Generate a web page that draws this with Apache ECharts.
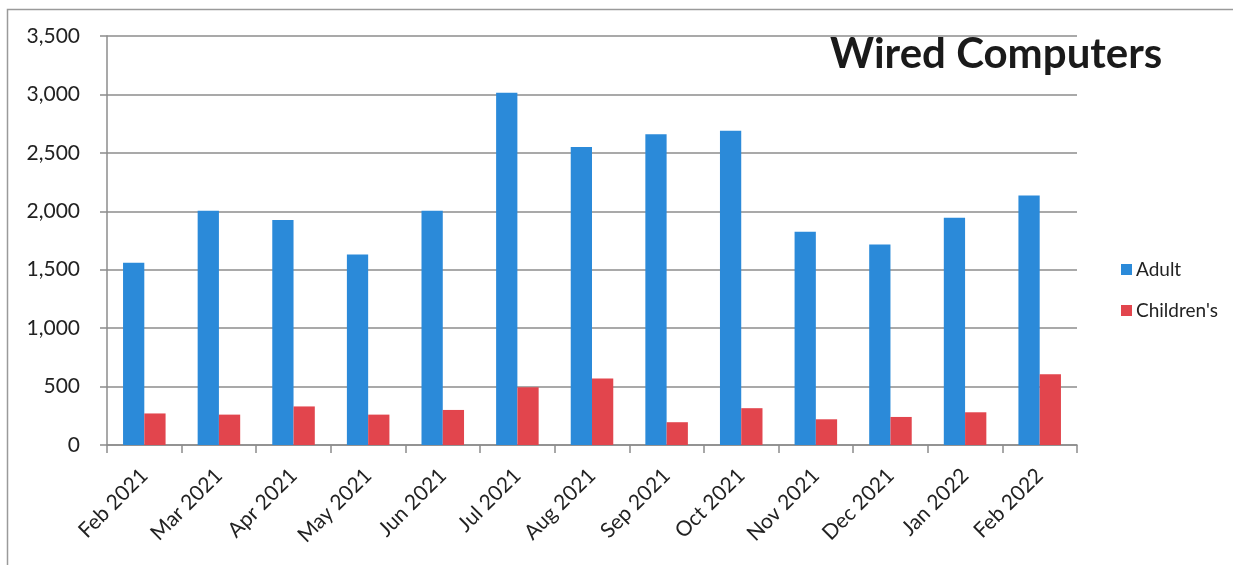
<!DOCTYPE html>
<html><head><meta charset="utf-8">
<script src="https://cdn.jsdelivr.net/npm/echarts@6/dist/echarts.min.js"></script>
<style>html,body{margin:0;padding:0;background:#fff}#c{width:1233px;height:565px}</style>
</head><body><div id="c"></div>
<script>
const categories = ['Feb 2021','Mar 2021','Apr 2021','May 2021','Jun 2021','Jul 2021','Aug 2021','Sep 2021','Oct 2021','Nov 2021','Dec 2021','Jan 2022','Feb 2022'];
const adult = [1560, 2005, 1925, 1630, 2005, 3015, 2550, 2660, 2690, 1825, 1715, 1945, 2135];
const children = [270, 260, 330, 260, 300, 495, 570, 195, 315, 220, 240, 280, 605];
const seriesNames = ['Adult', "Children's"];

const chart = echarts.init(document.getElementById('c'), null, {renderer:'canvas'});
const font = 'Lato, "Open Sans", sans-serif';
chart.setOption({
  animation: false,
  backgroundColor: '#fff',
  title: {
    text: 'Wired Computers', left: 830, top: 33, padding: 0,
    textStyle: {fontFamily: font, fontWeight: 'bold', fontSize: 42, color: '#1a1a1a'}
  },
  graphic: [{
    type: 'rect', shape: {x: 7.5, y: 9.5, width: 1240, height: 600},
    style: {fill: 'none', stroke: '#9a9a9a', lineWidth: 1.5}, silent: true, z: -1
  }],
  legend: {
    orient: 'vertical', left: 1116, top: 255, itemGap: 22,
    itemWidth: 11, itemHeight: 11, icon: 'rect',
    textStyle: {fontFamily: font, fontSize: 19, color: '#222', padding: [0,0,0,-1]},
    data: seriesNames
  },
  grid: {left: 107, right: 156, top: 36, bottom: 120, containLabel: false},
  xAxis: {
    type: 'category', data: categories,
    axisLine: {lineStyle: {color: '#8c8c8c', width: 1.5}},
    axisTick: {show: true, length: 8, inside: false, lineStyle: {color: '#8c8c8c', width: 1.5}},
    axisLabel: {rotate: 45, fontFamily: font, fontSize: 21, color: '#222', margin: 27}
  },
  yAxis: {
    type: 'value', min: 0, max: 3500, interval: 500,
    axisLine: {show: true, lineStyle: {color: '#8c8c8c', width: 1.5}},
    axisTick: {show: true, length: 7, lineStyle: {color: '#8c8c8c', width: 1.5}},
    splitLine: {lineStyle: {color: '#8c8c8c', width: 1.5}},
    axisLabel: {fontFamily: font, fontSize: 21, color: '#222', margin: 27,
      formatter: v => v.toLocaleString('en-US')}
  },
  series: [
    {name: seriesNames[0], type: 'bar', data: adult, barGap: '0%', barCategoryGap: '43%',
     itemStyle: {color: '#2B8AD9'}},
    {name: seriesNames[1], type: 'bar', data: children, barGap: '0%', barCategoryGap: '43%',
     itemStyle: {color: '#E2454D'}}
  ]
});
</script></body></html>
